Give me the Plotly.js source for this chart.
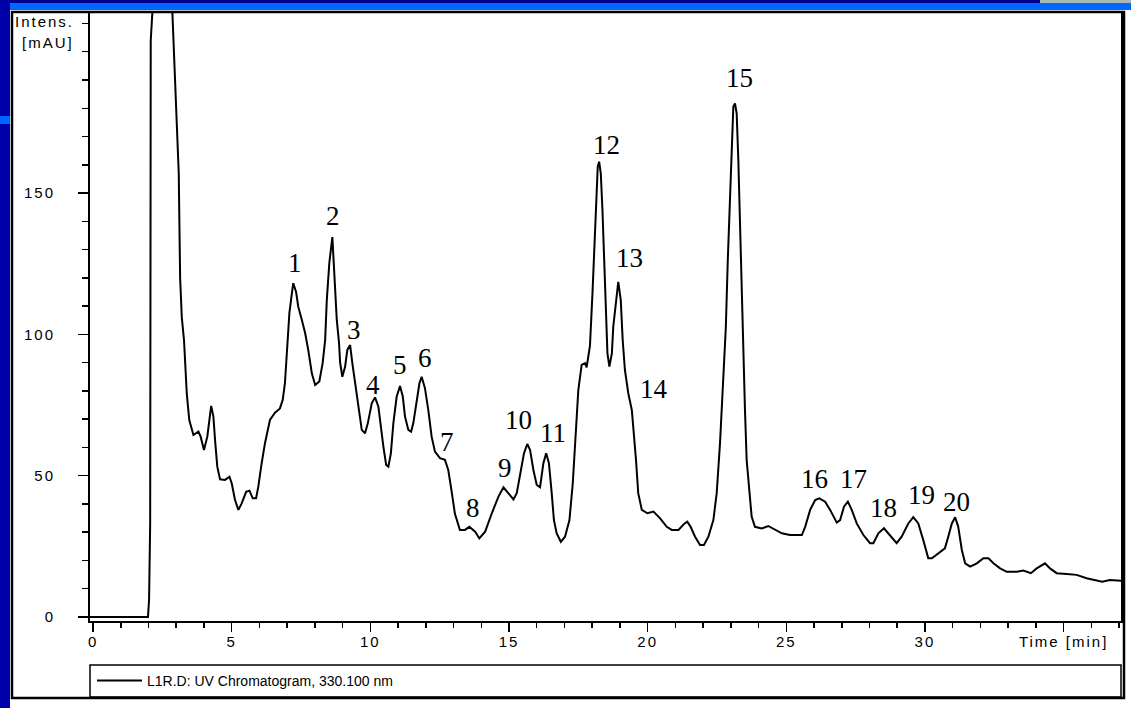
<!DOCTYPE html>
<html>
<head>
<meta charset="utf-8">
<script src="https://cdn.plot.ly/plotly-3.0.1.min.js"></script>
<style>
html,body{margin:0;padding:0;background:#ffffff;}
#chart{width:1131px;height:708px;}
.xtick text, .ytick text { letter-spacing: 2px; }
text.annotation-text[style*="Liberation Sans"] { letter-spacing: 2px; }
</style>
</head>
<body>
<div id="chart"></div>
<script>
// Retention time (min)
const time = [-0.11, 1.98, 2.02, 2.06, 2.07, 2.08, 2.14, 2.5, 2.86, 3.02, 3.09, 3.14, 3.20, 3.28, 3.32, 3.38, 3.47, 3.62, 3.80, 3.88,
  4.00, 4.12, 4.26, 4.34, 4.40, 4.48, 4.58, 4.76, 4.92, 5.00, 5.12, 5.24, 5.36, 5.52, 5.64, 5.76, 5.88, 5.96, 6.08, 6.20,
  6.38, 6.56, 6.74, 6.84, 6.92, 6.99, 7.08, 7.17, 7.22, 7.32, 7.40, 7.53, 7.65, 7.76, 7.89, 8.01, 8.16, 8.28, 8.37, 8.43,
  8.52, 8.63, 8.73, 8.79, 8.87, 8.91, 8.99, 9.09, 9.17, 9.27, 9.35, 9.45, 9.57, 9.69, 9.81, 9.91, 10.05, 10.17, 10.29, 10.37,
  10.47, 10.57, 10.65, 10.74, 10.83, 10.95, 11.07, 11.17, 11.25, 11.37, 11.47, 11.55, 11.65, 11.77, 11.85, 11.97, 12.09, 12.21, 12.33, 12.51,
  12.69, 12.81, 12.94, 13.05, 13.23, 13.41, 13.57, 13.78, 13.93, 14.14, 14.38, 14.62, 14.80, 14.98, 15.16, 15.28, 15.40, 15.54, 15.66, 15.76,
  15.88, 16.00, 16.12, 16.24, 16.34, 16.44, 16.54, 16.62, 16.72, 16.87, 17.02, 17.18, 17.30, 17.42, 17.50, 17.62, 17.74, 17.80, 17.92, 18.01,
  18.08, 18.14, 18.20, 18.25, 18.31, 18.37, 18.43, 18.50, 18.55, 18.62, 18.71, 18.76, 18.86, 18.94, 19.03, 19.10, 19.18, 19.30, 19.43, 19.51,
  19.58, 19.66, 19.79, 19.99, 20.21, 20.45, 20.69, 20.87, 21.11, 21.31, 21.43, 21.55, 21.71, 21.89, 22.03, 22.19, 22.37, 22.49, 22.61, 22.73,
  22.82, 22.89, 22.97, 23.03, 23.09, 23.15, 23.21, 23.27, 23.33, 23.39, 23.45, 23.51, 23.57, 23.67, 23.75, 23.87, 24.11, 24.35, 24.59, 24.84,
  25.13, 25.56, 25.68, 25.86, 26.04, 26.19, 26.40, 26.58, 26.82, 26.94, 27.08, 27.22, 27.36, 27.54, 27.78, 28.02, 28.14, 28.32, 28.52, 28.74,
  28.98, 29.16, 29.40, 29.58, 29.76, 29.94, 30.12, 30.25, 30.48, 30.72, 30.84, 30.97, 31.09, 31.20, 31.33, 31.45, 31.63, 31.87, 32.11, 32.29,
  32.47, 32.71, 32.95, 33.31, 33.55, 33.82, 34.03, 34.33, 34.51, 34.75, 35.11, 35.47, 35.83, 36.07, 36.39, 36.67, 37.10];

// Intensity (mAU)
const intensity = [0, 0, 6, 33, 112, 204, 214, 240, 214, 171, 157, 120, 106, 98, 88.6, 79, 69.7, 64.4, 65.6, 63.8,
  59.1, 63.8, 74.7, 70.9, 62.6, 53.2, 48.7, 48.5, 49.6, 47.3, 41.4, 37.9, 40.2, 44.3, 44.7, 42, 42, 46.1, 54.4, 61.5,
  69.7, 72.3, 73.8, 76.8, 82.7, 94.5, 107.5, 114.5, 118.1, 115.1, 109.8, 105.1, 100.4, 94.5, 86.2, 82.1, 83.3, 89.8, 98, 112.2,
  125.2, 134.4, 117, 105, 97, 90, 85, 88.6, 94.5, 96.2, 89.8, 82.7, 73.2, 66.2, 65, 68.6, 75.6, 77.7, 74.4, 67.3,
  60.3, 53.8, 53.2, 57.9, 68.6, 78, 81.7, 78, 70.9, 66.2, 65.6, 68.6, 75.6, 82.7, 85, 80.9, 73.2, 63.8, 58.5, 56.2,
  55.6, 52, 43.8, 36.5, 30.8, 30.8, 31.9, 30.2, 27.8, 30.2, 36.7, 42.6, 45.9, 43.8, 41.6, 43.8, 50.8, 57.9, 61.2, 59.1,
  52, 46.7, 45.9, 54.4, 57.9, 54.4, 43.8, 34.3, 29.6, 26.6, 28.4, 34.3, 47.3, 65, 80.3, 89.2, 89.8, 88.3, 96, 114.5,
  133.4, 149.9, 159.3, 161.1, 157, 144, 126.3, 103.9, 93.3, 88.6, 93.3, 102.7, 112.2, 118.6, 112.2, 98, 87.4, 79.2, 73.2, 65,
  55.6, 43.8, 37.9, 36.7, 37.3, 34.9, 31.9, 30.8, 30.8, 32.9, 33.7, 31.9, 28.4, 25.5, 25.5, 28.4, 34.3, 43.8, 61.5, 85,
  102.7, 126.3, 149.9, 167.6, 180.6, 181.7, 178.2, 161.7, 138.1, 114.5, 90.9, 73.2, 55.6, 43.8, 35.5, 31.9, 31.3, 32.2, 30.8, 29.6,
  29.0, 29.0, 31.9, 37.9, 41.4, 42, 40.8, 37.9, 33.4, 34.3, 39, 40.8, 37.9, 33.1, 29, 26.1, 26.1, 29.6, 31.4, 29,
  26.1, 28.4, 33.1, 35.3, 33.1, 27.2, 20.8, 20.8, 22.5, 24.3, 28.4, 33.1, 35.3, 31.9, 23.7, 19, 17.8, 19, 20.8, 20.8,
  19, 17.2, 16, 16, 16.4, 15.5, 17.2, 19, 17.2, 15.5, 15.2, 14.9, 13.7, 13.1, 12.5, 13.1, 12.8];

// Peak labels
const peakNames = ["1","2","3","4","5","6","7","8","9","10","11","12","13","14","15","16","17","18","19","20"];
const peakLabelTime = [7.28, 8.66, 9.41, 10.11, 11.07, 11.97, 12.75, 13.71, 14.86, 15.34, 16.58, 18.52, 19.34, 20.23, 23.33, 26.0, 27.44, 28.52, 29.86, 31.15];
const peakLabelInt = [125.3, 141.9, 101.6, 82.1, 89.2, 91.5, 62.0, 38.5, 52.6, 69.7, 65.2, 167.0, 126.9, 80.6, 190.6, 48.7, 48.7, 38.5, 43.2, 40.8];

// Axis ticks
const xTickVals = [0, 5, 10, 15, 20, 25, 30, 35];
const xTickText = ["0", "5", "10", "15", "20", "25", "30", "Time [min]"];
const yTickVals = [0, 50, 100, 150];
const yTickText = ["0", "50", "100", "150"];
const seriesName = "L1R.D: UV Chromatogram, 330.100 nm";

// pixel -> paper helpers for decoration
const L = 90, R = 10, T = 13, B = 87, W = 1131, H = 708;
const pw = W - L - R, ph = H - T - B;
const px = p => (p - L) / pw;
const py = p => (H - B - p) / ph;

const sansFont = "Liberation Sans, Arial, sans-serif";
const serifFont = "Liberation Serif, Times New Roman, serif";

const annotations = peakNames.map((n, i) => ({
  x: peakLabelTime[i], y: peakLabelInt[i], xref: "x", yref: "y",
  text: n, showarrow: false, xanchor: "center", yanchor: "middle",
  font: {family: serifFont, size: 27, color: "#000"}
}));
annotations.push({xref: "paper", yref: "paper", x: px(76), y: py(22), text: "Intens.", showarrow: false,
  xanchor: "right", yanchor: "middle", font: {family: sansFont, size: 15, color: "#000"}});
annotations.push({xref: "paper", yref: "paper", x: px(76), y: py(43), text: "[mAU]", showarrow: false,
  xanchor: "right", yanchor: "middle", font: {family: sansFont, size: 15, color: "#000"}});

const shapes = [
  // top dark band and bright blue band
  {type: "rect", xref: "paper", yref: "paper", x0: px(0), x1: px(1131), y0: py(0), y1: py(10), fillcolor: "#000090", line: {width: 0}, layer: "below"},
  {type: "rect", xref: "paper", yref: "paper", x0: px(1040), x1: px(1131), y0: py(0), y1: py(3), fillcolor: "#a9b8b4", line: {width: 0}, layer: "below"},
  {type: "rect", xref: "paper", yref: "paper", x0: px(0), x1: px(1131), y0: py(3), y1: py(10), fillcolor: "#0066ff", line: {width: 0}, layer: "below"},
  // left strip
  {type: "rect", xref: "paper", yref: "paper", x0: px(0), x1: px(10), y0: py(0), y1: py(708), fillcolor: "#0000a8", line: {width: 0}, layer: "below"},
  {type: "rect", xref: "paper", yref: "paper", x0: px(0), x1: px(10), y0: py(116), y1: py(124), fillcolor: "#0066ff", line: {width: 0}, layer: "below"},
  // panel border
  {type: "rect", xref: "paper", yref: "paper", x0: px(12), x1: px(1124), y0: py(12), y1: py(698), line: {color: "#000", width: 2.5}, fillcolor: "rgba(0,0,0,0)"},
  // legend box
  {type: "rect", xref: "paper", yref: "paper", x0: px(90), x1: px(1121), y0: py(665), y1: py(697), line: {color: "#000", width: 1.5}, fillcolor: "rgba(0,0,0,0)"}
];

const trace = {
  x: time, y: intensity, type: "scatter", mode: "lines", name: seriesName,
  line: {color: "#000", width: 2}, hoverinfo: "x+y"
};

const layout = {
  width: W, height: H,
  margin: {l: L, r: R, t: T, b: B, pad: 0},
  paper_bgcolor: "#ffffff", plot_bgcolor: "#ffffff",
  showlegend: true,
  legend: {x: px(92), y: py(681), xanchor: "left", yanchor: "middle", bgcolor: "rgba(0,0,0,0)",
    borderwidth: 0, itemwidth: 45, font: {family: sansFont, size: 14, color: "#000"}},
  xaxis: {
    range: [-0.11, 37.07], showgrid: false, zeroline: false,
    showline: true, linecolor: "#000", linewidth: 2, mirror: true,
    tickmode: "array", tickvals: xTickVals, ticktext: xTickText,
    ticks: "outside", ticklen: 9, tickwidth: 1.5, tickcolor: "#000", ticklabelstandoff: -3,
    minor: {dtick: 1, tick0: 0, ticks: "outside", ticklen: 5, tickwidth: 1.5, tickcolor: "#000"},
    tickfont: {family: sansFont, size: 15, color: "#000"}
  },
  yaxis: {
    range: [-1.42, 213.7], showgrid: false, zeroline: false,
    showline: true, linecolor: "#000", linewidth: 2, mirror: true,
    tickmode: "array", tickvals: yTickVals, ticktext: yTickText,
    ticks: "outside", ticklen: 10, tickwidth: 1.5, tickcolor: "#000", ticklabelstandoff: 20,
    minor: {dtick: 10, tick0: 0, ticks: "outside", ticklen: 6, tickwidth: 1.5, tickcolor: "#000"},
    tickfont: {family: sansFont, size: 15, color: "#000"}
  },
  annotations: annotations,
  shapes: shapes
};

Plotly.newPlot("chart", [trace], layout, {displayModeBar: false, staticPlot: true});
</script>
</body>
</html>
